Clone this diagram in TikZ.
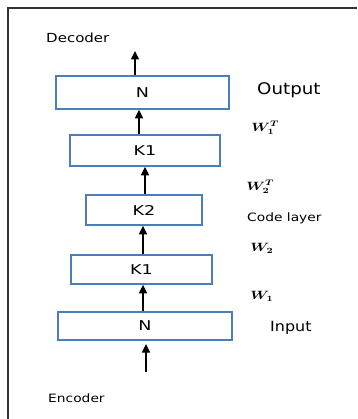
\documentclass[tikz,border=0pt]{standalone}
\usepackage{fontspec}
\setmainfont{DejaVu Sans}
\usetikzlibrary{arrows.meta,calc}
\definecolor{boxblue}{HTML}{4A7EBB}
\definecolor{framegray}{HTML}{333333}
\tikzset{
  layer/.style={draw=boxblue, line width=1.6pt, inner sep=0pt},
  boxtext/.style={font=\fontsize{13.5}{15}\selectfont},
  flow/.style={line width=1.1pt, -{Triangle[width=8pt,length=8.5pt]}},
  lbl/.style={anchor=west, inner sep=0pt, xscale=1.2},
  wt/.style={anchor=west, inner sep=0pt, xscale=1.25, font=\fontsize{12}{14}\selectfont\boldmath}
}
\begin{document}
\begin{tikzpicture}[x=1pt,y=-1pt]
\useasboundingbox (0,0) rectangle (357,419);
% open frame
\draw[framegray, line width=1.5pt] (357,8) -- (8,8) -- (8,419);

% layers
\node[layer, minimum width=173pt, minimum height=33pt] (nout) at (142.5,92.5) {};
\node[layer, minimum width=150pt, minimum height=31pt] (k1top) at (145,150.5) {};
\node[layer, minimum width=116pt, minimum height=30pt] (k2) at (144,210) {};
\node[layer, minimum width=141pt, minimum height=29pt] (k1low) at (141.5,269.5) {};
\node[layer, minimum width=174pt, minimum height=28pt] (nin) at (145,326) {};

% layer sizes
\node[boxtext, xscale=1.3] (tnout) at (nout.center) {N};
\node[boxtext, xscale=1.3] (tk1top) at (k1top.center) {K1};
\node[boxtext, xscale=1.3] (tk2) at (k2.center) {K2};
\node[boxtext, xscale=1.3] (tk1low) at (k1low.center) {K1};
\node[boxtext, xscale=1.3] (tnin) at (nin.center) {N};

% side labels
\node[lbl, font=\fontsize{12.5}{14}\selectfont] (dec) at (46,38) {Decoder};
\node[lbl, font=\fontsize{11.5}{13}\selectfont] (enc) at (48,398) {Encoder};
\node[lbl, font=\fontsize{16}{18}\selectfont, xscale=0.95] (outl) at (257,90) {Output};
\node[lbl, font=\fontsize{11.5}{13}\selectfont] (codel) at (247,218) {Code layer};
\node[lbl, font=\fontsize{14}{16}\selectfont, xscale=0.95] (inl) at (270,328) {Input};

% weight labels
\node[wt] (w1t) at (251,128) {$W_1^T$};
\node[wt] (w2t) at (246,187) {$W_2^T$};
\node[wt] (w2) at (250,248) {$W_2$};
\node[wt] (w1) at (250,296) {$W_1$};

% arrow end points
\coordinate (toptip) at (135,51);
\coordinate (encstart) at (146,372);
\coordinate (enctip) at (146,344);

% connectors
\draw[flow] (nout.north -| toptip) -- (toptip);
\draw[flow] (k1top.north -| 139,0) -- (nout.south -| 139,0);
\draw[flow] (k2.north -| 145,0) -- (k1top.south -| 145,0);
\draw[flow] (k1low.north -| 143,0) -- (k2.south -| 143,0);
\draw[flow] (nin.north -| 143,0) -- (k1low.south -| 143,0);
\draw[flow] (encstart) -- (enctip);
\end{tikzpicture}
\end{document}
